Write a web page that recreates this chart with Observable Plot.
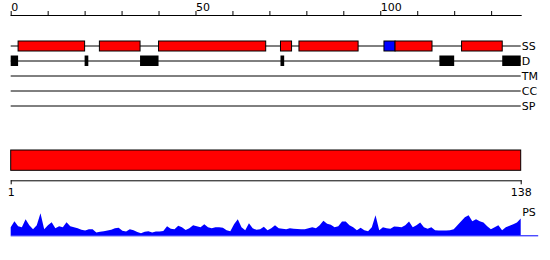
<!DOCTYPE html>
<html>
<head>
<meta charset="utf-8">
<script src="https://cdn.jsdelivr.net/npm/d3@7"></script>
<script src="https://cdn.jsdelivr.net/npm/@observablehq/plot@0.6"></script>
<style>
  body { margin: 0; background: white; }
  #chart svg { display: block; }
</style>
</head>
<body>
<div id="chart"></div>
<script>
// ---- data ----
const tracks = ["SS", "D", "TM", "CC", "SP"];
const topTicks = [0, 10, 20, 30, 40, 50, 60, 70, 80, 90, 100, 110, 120, 130];
const topTickLabels = [0, 50, 100];

const ssStart = [2, 24, 40, 73, 78, 101, 104, 122];
const ssEnd   = [20, 35, 69, 76, 94, 104, 114, 133];
const ssType  = ["H", "H", "H", "H", "H", "E", "H", "H"];

const dStart = [0, 20, 35, 73, 116, 133];
const dEnd   = [2, 21, 40, 74, 120, 138];

const seqStart = 1;
const seqEnd = 138;
const seqTicks = [1, 138];

const psValues = [
  8, 14, 9, 8, 16, 10, 6, 10, 22, 6,
  10, 13, 7, 9, 8, 13, 9, 8, 7, 5.5,
  4.7, 6, 6, 2.7, 3.5, 4, 4.7, 5.5, 7, 7.5,
  4.5, 3.7, 6, 5, 3.3, 2, 3.5, 4, 2.7, 3.7,
  3.8, 4.3, 9, 6.5, 6, 9.5, 8, 5.3, 7, 10,
  9, 8, 11, 8, 7, 8, 8, 7.5, 5, 4,
  11, 16, 8, 5, 12, 7, 5.5, 6, 8.5, 5,
  7, 10, 7, 6.5, 6, 7, 6.5, 6.3, 6, 6,
  7, 8, 7, 10, 14.5, 11.5, 10.5, 8, 9, 13.7,
  13.7, 10, 8, 5, 7.5, 5, 4, 8, 20, 5,
  8, 7, 6.5, 8.7, 8.5, 8, 10, 13.7, 8, 10,
  12.7, 8, 6.5, 8, 5, 4.7, 4.7, 4.7, 5, 6,
  10, 14, 18, 20, 14, 16, 14, 12.7, 9, 6,
  8, 10, 5, 8, 9.5, 11, 12.7, 16.7
];
const psBaselineEnd = 142.7;

// ---- tables ----
const ssData = ssStart.map((s, i) => ({start: s, end: ssEnd[i], type: ssType[i]}));
const dData = dStart.map((s, i) => ({start: s, end: dEnd[i]}));
const psData = psValues.map((v, i) => ({pos: i + 1, value: v}));
const ssColor = {H: "#ff0000", E: "#0000ff"};

const font = {fontFamily: "'DejaVu Sans', sans-serif", fontSize: "11px", background: "white", overflow: "visible"};

const topPlot = Plot.plot({
  width: 550, height: 120,
  marginTop: 15, marginLeft: 10.7, marginRight: 29.3, marginBottom: 0,
  x: {domain: [0, 138]},
  y: {type: "band", domain: tracks, range: [37.5, 112.5], padding: 0, axis: null},
  style: font,
  marks: [
    Plot.frame({anchor: "top", stroke: "black"}),
    Plot.axisX({anchor: "top", ticks: topTicks, tickSize: 5, tickPadding: 0,
      tickFormat: d => topTickLabels.includes(d) ? String(d) : "",
      textAnchor: "start", fontSize: 11}),
    Plot.ruleY(tracks, {y: d => d, x1: 0, x2: 138, stroke: "black"}),
    Plot.barX(ssData, {x1: "start", x2: "end", y: () => "SS",
      fill: d => ssColor[d.type], stroke: "black", insetTop: 3, insetBottom: 2}),
    Plot.barX(dData, {x1: "start", x2: "end", y: () => "D",
      fill: "black", insetTop: 2.5, insetBottom: 2}),
    Plot.text(tracks, {x: 138, y: d => d, text: d => d, textAnchor: "start", dx: 0.5, fontSize: 11})
  ]
});

const midPlot = Plot.plot({
  width: 550, height: 85,
  marginTop: 30, marginLeft: 10.7, marginRight: 29.3, marginBottom: 24.7,
  x: {domain: [seqStart, seqEnd]},
  style: font,
  marks: [
    Plot.barX([{start: seqStart, end: seqEnd}], {x1: "start", x2: "end",
      fill: "#ff0000", stroke: "black", insetBottom: 10}),
    Plot.frame({anchor: "bottom", stroke: "black"}),
    Plot.axisX({anchor: "bottom", ticks: seqTicks, tickSize: 4, tickPadding: 3,
      tickFormat: d => String(d), fontSize: 11})
  ]
});

const psPlot = Plot.plot({
  width: 550, height: 55,
  marginTop: 0, marginLeft: 10.7, marginRight: 29.3, marginBottom: 24.7,
  x: {domain: [seqStart, seqEnd], axis: null},
  y: {domain: [0, 23], range: [30.3, 7.3], axis: null},
  style: font,
  marks: [
    Plot.areaY(psData, {x: "pos", y: "value", fill: "#0000ff"}),
    Plot.ruleY([0], {x1: seqStart, x2: psBaselineEnd, stroke: "#0000ff"}),
    Plot.text(["PS"], {x: seqEnd, y: 23, text: d => d, textAnchor: "start", dx: 1, fontSize: 11})
  ]
});

const root = document.getElementById("chart");
root.append(topPlot, midPlot, psPlot);
</script>
</body>
</html>
